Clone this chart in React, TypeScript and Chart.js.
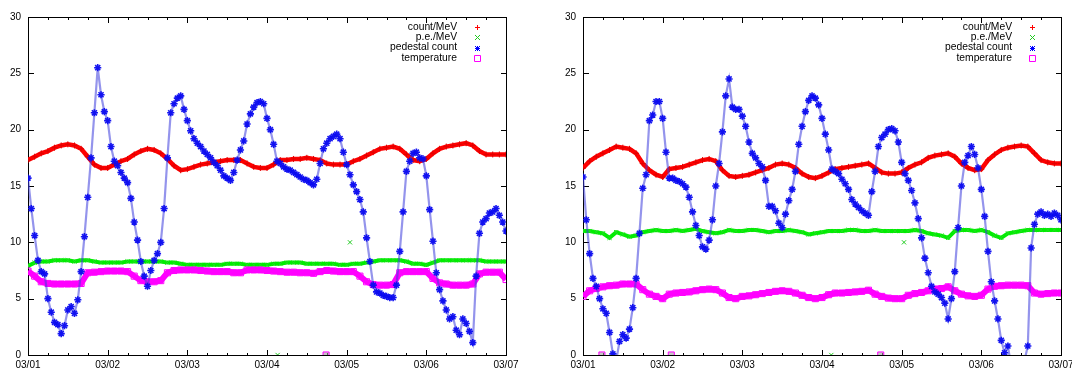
import React, { useEffect, useRef } from "react";
import { Chart, registerables } from "chart.js";

Chart.register(...registerables);

// ---------- labels ----------
const dayLabels = ["03/01", "03/02", "03/03", "03/04", "03/05", "03/06", "03/07"];
const yTickValues = [0, 5, 10, 15, 20, 25, 30];
const xTickHours = [0, 6, 12, 18, 24, 30, 36, 42, 48, 54, 60, 66, 72, 78, 84, 90, 96, 102, 108, 114, 120, 126, 132, 138, 144];
const seriesNames = ["count/MeV", "p.e./MeV", "pedestal count", "temperature"];

// sampling hours (since 03/01 00:00)
const hours2 = Array.from({ length: 73 }, (_, i) => i * 2);
const hours1 = Array.from({ length: 145 }, (_, i) => i);

// ---------- left panel ----------
const leftCount = [17.3, 17.6, 17.9, 18.1, 18.4, 18.6, 18.7, 18.6, 18.3, 17.6, 16.9, 16.6, 16.6, 16.9, 17.2, 17.4, 17.8, 18.1, 18.3, 18.2, 17.9, 17.4, 16.8, 16.4, 16.5, 16.7, 16.9, 17.0, 17.1, 17.2, 17.3, 17.3, 17.3, 17.0, 16.7, 16.6, 16.6, 16.9, 17.3, 17.3, 17.4, 17.4, 17.5, 17.4, 17.3, 17.0, 16.9, 16.9, 16.9, 17.2, 17.4, 17.7, 18.0, 18.3, 18.4, 18.5, 18.3, 17.8, 17.3, 17.2, 17.4, 17.9, 18.3, 18.5, 18.6, 18.7, 18.8, 18.6, 18.1, 17.8, 17.8, 17.8, 17.8];
const leftPe = [7.9, 8.2, 8.3, 8.3, 8.4, 8.4, 8.4, 8.3, 8.4, 8.4, 8.3, 8.2, 8.2, 8.2, 8.2, 8.3, 8.3, 8.3, 8.3, 8.3, 8.3, 8.2, 8.2, 8.1, 8.0, 8.0, 8.0, 8.0, 8.0, 8.0, 8.1, 8.1, 8.1, 8.0, 8.0, 8.0, 8.0, 8.1, 8.1, 8.2, 8.2, 8.2, 8.1, 8.1, 8.1, 8.1, 8.1, 8.0, 8.0, 8.1, 8.1, 8.2, 8.3, 8.4, 8.4, 8.4, 8.4, 8.3, 8.1, 8.1, 8.0, 8.2, 8.4, 8.4, 8.4, 8.4, 8.4, 8.4, 8.4, 8.3, 8.3, 8.3, 8.3];
const leftTemp = [7.45, 7.0, 6.5, 6.35, 6.3, 6.3, 6.3, 6.3, 6.35, 7.3, 7.35, 7.4, 7.45, 7.45, 7.45, 7.4, 7.0, 6.6, 6.5, 6.5, 6.6, 7.3, 7.5, 7.55, 7.55, 7.55, 7.5, 7.45, 7.4, 7.4, 7.4, 7.3, 7.3, 7.55, 7.55, 7.55, 7.5, 7.45, 7.4, 7.35, 7.35, 7.3, 7.3, 7.25, 7.4, 7.5, 7.45, 7.4, 7.4, 7.4, 7.0, 6.5, 6.25, 6.2, 6.2, 6.25, 7.3, 7.4, 7.4, 7.4, 7.4, 6.8, 6.4, 6.3, 6.2, 6.2, 6.2, 6.3, 7.2, 7.35, 7.35, 7.35, 6.7];
const leftPed = [
  15.7, 13.0, 10.6, 8.4, 7.4, 7.2, 5.0, 3.8, 2.9, 2.7, 1.9, 2.6, 4.0, 4.3, 3.7, 4.9, 7.4, 10.5, 14.0, 17.5, 21.5, 25.5, 23.1, 21.6,
  20.8, 18.5, 17.2, 16.8, 16.2, 15.7, 15.3, 13.9, 11.8, 10.2, 8.3, 7.0, 6.1, 7.5, 8.4, 9.0, 10.0, 13.0, 17.5, 21.5, 22.3, 22.8, 23.0, 21.8,
  20.8, 19.9, 19.2, 18.8, 18.5, 18.1, 17.8, 17.5, 17.1, 16.8, 16.4, 15.9, 15.7, 15.5, 16.2, 17.3, 18.2, 19.0, 20.5, 21.4, 22.0, 22.4, 22.5, 22.3,
  21.0, 20.0, 18.7, 17.2, 17.0, 16.7, 16.5, 16.4, 16.2, 16.0, 15.8, 15.6, 15.5, 15.3, 15.1, 15.6, 17.0, 18.3, 18.8, 19.2, 19.4, 19.6,
  19.2, 18.0, 16.9, 16.0, 15.1, 14.5, 13.8, 12.7, 10.4, 8.3, 6.2, 5.6, 5.5, 5.3, 5.2, 5.1, 5.1, 6.2, 9.2, 12.7, 16.3, 17.2, 17.9, 18.0,
  17.5, 17.4, 15.9, 12.9, 10.1, 7.3, 5.8, 4.8, 4.0, 3.2, 3.4, 2.2, 1.8, 3.2, 2.8, 2.1, 1.1, 7.0, 10.8, 11.8, 12.1, 12.6, 12.7, 13.0,
  12.4, 11.8, 11.0,
];
const leftPeOutHours = [75.2, 97.0];
const leftPeOutValues = [0, 10.0];
const leftTempOutHours = [89.8];
const leftTempOutValues = [0];

// ---------- right panel ----------
const rightCount = [16.6, 17.2, 17.6, 17.9, 18.2, 18.5, 18.4, 18.3, 17.9, 17.0, 16.4, 16.0, 15.8, 16.5, 16.6, 16.7, 16.9, 17.1, 17.3, 17.4, 17.2, 16.4, 15.9, 15.8, 15.9, 16.0, 16.2, 16.4, 16.6, 16.9, 17.0, 16.9, 16.6, 16.1, 15.8, 15.7, 15.9, 16.2, 16.5, 16.6, 16.7, 16.8, 16.9, 17.0, 16.6, 16.2, 16.1, 16.1, 16.2, 16.6, 16.9, 17.1, 17.5, 17.7, 17.8, 17.9, 17.6, 17.0, 16.6, 16.4, 16.5, 17.3, 17.8, 18.2, 18.4, 18.5, 18.6, 18.5, 17.9, 17.3, 17.1, 17.0, 17.0];
const rightPe = [11.0, 11.0, 10.9, 10.8, 10.4, 10.9, 10.7, 10.5, 10.6, 10.9, 11.0, 11.1, 11.0, 11.0, 11.1, 11.0, 11.1, 11.2, 11.0, 10.9, 10.8, 10.9, 11.1, 11.0, 11.0, 11.1, 11.1, 11.0, 10.9, 11.0, 11.0, 11.1, 11.0, 10.9, 10.7, 10.8, 10.9, 11.0, 11.0, 11.0, 11.1, 11.1, 11.0, 11.0, 11.1, 11.0, 11.0, 11.0, 11.0, 11.0, 11.1, 11.0, 10.8, 10.7, 10.6, 10.4, 11.0, 11.1, 11.1, 11.0, 11.1, 10.9, 10.6, 10.4, 10.8, 10.9, 11.0, 11.1, 11.1, 11.1, 11.1, 11.1, 11.1];
const rightTemp = [5.2, 5.7, 5.9, 6.05, 6.15, 6.2, 6.3, 6.3, 6.3, 5.8, 5.4, 5.2, 5.0, 5.4, 5.5, 5.55, 5.6, 5.7, 5.8, 5.85, 5.8, 5.5, 5.1, 5.0, 5.2, 5.25, 5.35, 5.45, 5.55, 5.65, 5.7, 5.65, 5.5, 5.3, 5.1, 5.0, 5.1, 5.35, 5.5, 5.5, 5.55, 5.6, 5.65, 5.75, 5.4, 5.2, 5.05, 5.0, 5.0, 5.3, 5.45, 5.55, 5.7, 5.85, 5.9, 6.05, 5.7, 5.4, 5.25, 5.2, 5.3, 5.85, 6.1, 6.15, 6.2, 6.2, 6.2, 6.15, 5.5, 5.4, 5.45, 5.5, 5.5];
const rightPed = [
  15.8, 12.0, 9.0, 6.8, 6.1, 5.0, 4.1, 3.7, 2.0, 0.1, -0.5, 1.2, 1.8, 1.5, 2.3, 4.2, 6.8, 10.8, 14.8, 16.0, 20.8, 21.3, 22.5, 22.5,
  21.0, 18.0, 15.7, 15.7, 15.5, 15.4, 15.2, 14.9, 14.0, 12.7, 11.5, 10.6, 9.6, 9.4, 10.2, 12.0, 15.0, 17.0, 19.8, 23.0, 24.5, 22.0, 21.8, 21.8,
  21.2, 20.3, 18.9, 17.9, 17.5, 17.0, 16.7, 15.5, 13.2, 13.2, 12.8, 11.7, 11.3, 12.5, 13.7, 14.7, 16.3, 18.7, 20.3, 21.6, 22.6, 23.0, 22.8, 22.2,
  21.0, 19.6, 18.2, 16.5, 16.3, 16.1, 15.6, 15.2, 14.7, 13.8, 13.4, 13.1, 12.8, 12.6, 12.4, 14.5, 16.3, 18.5, 19.3, 19.6, 20.0, 20.1,
  19.9, 18.9, 17.1, 16.1, 15.5, 14.6, 13.5, 12.1, 10.4, 8.6, 7.3, 6.1, 5.6, 5.4, 5.1, 4.6, 3.2, 5.0, 7.4, 11.3, 15.0, 17.1, 17.7, 18.5,
  17.8, 16.6, 14.7, 12.3, 9.2, 6.5, 4.8, 3.2, 1.3, 0.2, 0.8, -1.0, -1.5, -1.5, -1.0, -0.5, 0.8, 9.5, 11.6, 12.5, 12.7, 12.4, 12.5, 12.3,
  12.6, 12.4, 12.0,
];
const rightPeOutHours = [74.8, 96.7];
const rightPeOutValues = [0, 10.0];
const rightTempOutHours = [5.7, 26.6, 89.7];
const rightTempOutValues = [0, 0, 0];

// ---------- styling ----------
const RED = "#ff0000";
const GREEN = "#00ee00";
const BLUE = "#0000ff";
const MAGENTA = "#ff00ff";
const FONT = '"Liberation Sans", Arial, Helvetica, sans-serif';

type PanelData = {
  count: number[];
  pe: number[];
  ped: number[];
  temp: number[];
  peOutH: number[];
  peOutV: number[];
  tempOutH: number[];
  tempOutV: number[];
};

const xy = (h: number[], v: number[]) => v.map((y, i) => ({ x: h[i], y }));

function buildDatasets(p: PanelData): any[] {
  return [
    {
      label: seriesNames[0],
      data: xy(hours2, p.count),
      showLine: true,
      borderColor: RED,
      borderWidth: 4.5,
      pointStyle: "cross",
      pointRadius: 3,
      pointBorderColor: "#e00000",
      pointBorderWidth: 1,
      order: 6,
    },
    {
      label: seriesNames[1],
      data: xy(hours2, p.pe),
      showLine: true,
      borderColor: GREEN,
      borderWidth: 4,
      pointStyle: "crossRot",
      pointRadius: 3,
      pointBorderColor: "#22dd22",
      pointBorderWidth: 1,
      order: 5,
    },
    {
      label: seriesNames[1] + "-out",
      data: xy(p.peOutH, p.peOutV),
      showLine: false,
      pointStyle: "crossRot",
      pointRadius: 3,
      pointBorderColor: "#22cc22",
      pointBorderWidth: 1,
      order: 4,
    },
    {
      label: seriesNames[3],
      data: xy(hours2, p.temp),
      showLine: true,
      borderColor: MAGENTA,
      borderWidth: 6,
      pointStyle: "rect",
      pointRadius: 4.3,
      pointBackgroundColor: "rgba(0,0,0,0)",
      pointBorderColor: MAGENTA,
      pointBorderWidth: 1,
      order: 3,
    },
    {
      label: seriesNames[3] + "-out",
      data: xy(p.tempOutH, p.tempOutV),
      showLine: false,
      pointStyle: "rect",
      pointRadius: 4.3,
      pointBackgroundColor: "rgba(160,160,160,0.6)",
      pointBorderColor: MAGENTA,
      pointBorderWidth: 1,
      order: 2,
    },
    {
      label: seriesNames[2],
      data: xy(hours1, p.ped),
      showLine: true,
      borderColor: "rgba(60,60,220,0.55)",
      borderWidth: 2.2,
      pointStyle: "star",
      pointRadius: 3.6,
      pointBorderColor: "rgba(10,10,240,0.95)",
      pointBorderWidth: 1.6,
      order: 1,
    },
  ];
}

const framePlugin = {
  id: "gpFrame",
  beforeDatasetsDraw(chart: any) {
    const { ctx, chartArea: a, scales } = chart;
    const L = Math.round(a.left);
    const R = Math.round(a.right);
    const T = Math.round(a.top);
    const B = Math.round(a.bottom);
    ctx.save();
    ctx.strokeStyle = "#000";
    ctx.lineWidth = 1;
    ctx.strokeRect(L + 0.5, T + 0.5, R - L, B - T);
    ctx.beginPath();
    for (const v of yTickValues) {
      const y = Math.round(scales.y.getPixelForValue(v)) + 0.5;
      ctx.moveTo(L, y);
      ctx.lineTo(L + 6, y);
      ctx.moveTo(R + 1, y);
      ctx.lineTo(R - 5, y);
    }
    for (const h of xTickHours) {
      const len = h % 24 === 0 ? 6 : 3;
      const x = Math.round(scales.x.getPixelForValue(h)) + 0.5;
      ctx.moveTo(x, B + 1);
      ctx.lineTo(x, B + 1 - len);
      ctx.moveTo(x, T);
      ctx.lineTo(x, T + len);
    }
    ctx.stroke();
    ctx.restore();
  },
};

function drawMarker(ctx: CanvasRenderingContext2D, kind: number, x: number, y: number) {
  const r = 2.5;
  ctx.save();
  ctx.lineWidth = 1;
  ctx.beginPath();
  if (kind === 0) {
    ctx.strokeStyle = RED;
    ctx.moveTo(x - r, y); ctx.lineTo(x + r, y);
    ctx.moveTo(x, y - r); ctx.lineTo(x, y + r);
  } else if (kind === 1) {
    ctx.strokeStyle = "#22cc22";
    ctx.moveTo(x - r, y - r); ctx.lineTo(x + r, y + r);
    ctx.moveTo(x - r, y + r); ctx.lineTo(x + r, y - r);
  } else if (kind === 2) {
    ctx.strokeStyle = BLUE;
    ctx.moveTo(x - r, y); ctx.lineTo(x + r, y);
    ctx.moveTo(x, y - r); ctx.lineTo(x, y + r);
    ctx.moveTo(x - r, y - r); ctx.lineTo(x + r, y + r);
    ctx.moveTo(x - r, y + r); ctx.lineTo(x + r, y - r);
  } else {
    ctx.strokeStyle = MAGENTA;
    ctx.rect(x - 3, y - 3, 6, 6);
  }
  ctx.stroke();
  ctx.restore();
}

const legendPlugin = {
  id: "gpLegend",
  afterDatasetsDraw(chart: any) {
    const { ctx, chartArea: a } = chart;
    ctx.save();
    ctx.font = `10.3px ${FONT}`;
    ctx.textAlign = "right";
    ctx.textBaseline = "middle";
    ctx.fillStyle = "#000";
    seriesNames.forEach((name, i) => {
      const y = a.top + 10 + i * 10.33;
      ctx.fillText(name, a.right - 49, y);
      drawMarker(ctx, i, Math.round(a.right - 29) + 0.5, Math.round(y) + 0.5);
    });
    ctx.restore();
  },
};

function makeConfig(p: PanelData, padLeft: number, padRight: number): any {
  return {
    type: "scatter",
    data: { datasets: buildDatasets(p) },
    plugins: [framePlugin, legendPlugin],
    options: {
      responsive: false,
      animation: false,
      events: [],
      layout: { padding: { left: padLeft, right: padRight, top: 17, bottom: 0 } },
      elements: { line: { tension: 0, fill: false } },
      plugins: { legend: { display: false }, tooltip: { enabled: false } },
      scales: {
        x: {
          type: "linear",
          min: 0,
          max: 144,
          grid: { display: false, drawTicks: false },
          border: { display: false },
          ticks: {
            stepSize: 24,
            padding: 4,
            maxRotation: 0,
            autoSkip: false,
            color: "#000",
            font: { family: FONT, size: 10 },
            callback: (v: number) => dayLabels[Math.round(v / 24)] ?? "",
          },
          afterFit: (s: any) => {
            s.height = 14;
            s.paddingLeft = 0;
            s.paddingRight = 0;
          },
        },
        y: {
          type: "linear",
          min: 0,
          max: 30,
          grid: { display: false, drawTicks: false },
          border: { display: false },
          ticks: {
            stepSize: 5,
            padding: 7,
            color: "#000",
            font: { family: FONT, size: 10 },
          },
          afterFit: (s: any) => {
            s.width = 28;
          },
        },
      },
    },
  };
}

const leftPanel: PanelData = {
  count: leftCount, pe: leftPe, ped: leftPed, temp: leftTemp,
  peOutH: leftPeOutHours, peOutV: leftPeOutValues, tempOutH: leftTempOutHours, tempOutV: leftTempOutValues,
};
const rightPanel: PanelData = {
  count: rightCount, pe: rightPe, ped: rightPed, temp: rightTemp,
  peOutH: rightPeOutHours, peOutV: rightPeOutValues, tempOutH: rightTempOutHours, tempOutV: rightTempOutValues,
};

function PanelChart({ data, left, padLeft, padRight }: { data: PanelData; left: number; padLeft: number; padRight: number }) {
  const ref = useRef<HTMLCanvasElement | null>(null);
  useEffect(() => {
    if (!ref.current) return;
    const chart = new Chart(ref.current, makeConfig(data, padLeft, padRight));
    return () => chart.destroy();
  }, [data, padLeft, padRight]);
  return (
    <canvas
      ref={ref}
      width={536}
      height={369}
      style={{ position: "absolute", left, top: 0, width: 536, height: 369, display: "block" }}
    />
  );
}

export default function App() {
  return (
    <div
      style={{
        position: "fixed",
        left: 0,
        top: 0,
        width: 1072,
        height: 369,
        background: "#fff",
        overflow: "hidden",
      }}
    >
      <PanelChart data={leftPanel} left={0} padLeft={0} padRight={30} />
      <PanelChart data={rightPanel} left={536} padLeft={19} padRight={11} />
    </div>
  );
}
